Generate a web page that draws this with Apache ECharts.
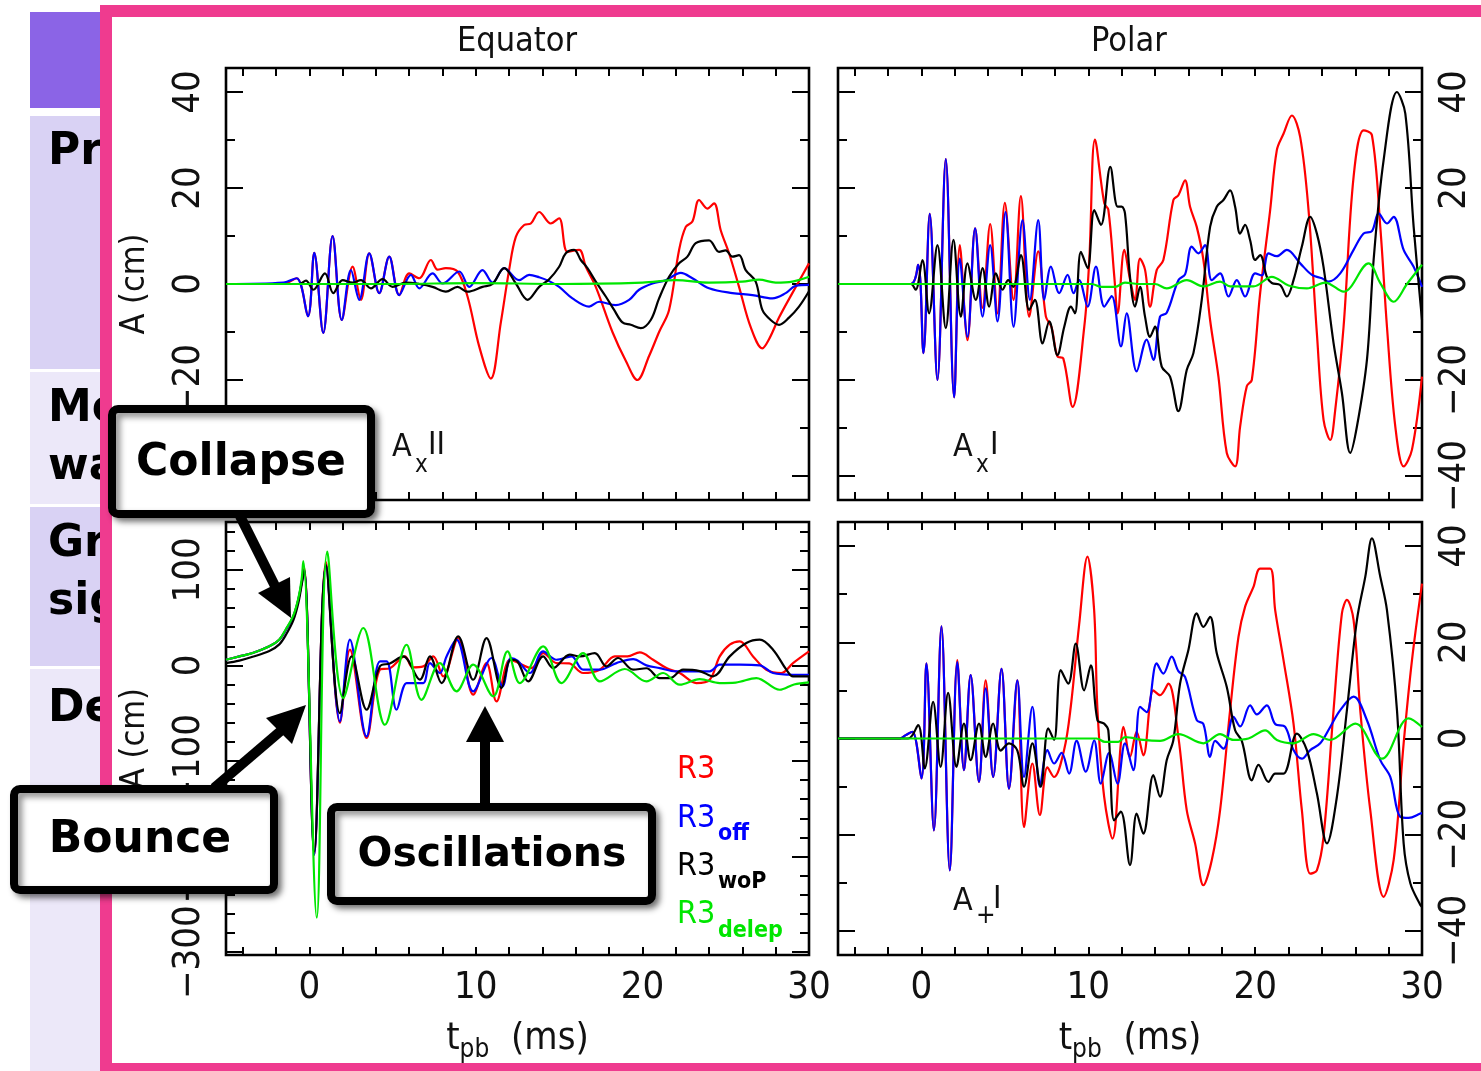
<!DOCTYPE html>
<html><head><meta charset="utf-8">
<script src="https://cdn.jsdelivr.net/npm/echarts@6/dist/echarts.min.js"></script>
<style>html,body{margin:0;padding:0;background:#fff;}#c{width:1481px;height:1071px;}</style>
</head><body><div id="c"></div>
<script>
// ---------- tick / label values ----------
const xTickVals = [-4,-2,0,2,4,6,8,10,12,14,16,18,20,22,24,26,28,30];
const xLabelVals = [0,10,20,30];
const ySmallTicks = [-40,-30,-20,-10,0,10,20,30,40];
const ySmallLabels = [-40,-20,0,20,40];
const yBigTicks = [-300,-280,-260,-240,-220,-200,-180,-160,-140,-120,-100,-80,-60,-40,-20,0,20,40,60,80,100,120,140];
const yBigLabels = [-300,-200,-100,0,100];

// ---------- Equator, A_x II (top-left) ----------
const eqAx_R3 = [[-5,0],[-1.6,0],[-0.76,1.2],[-0.08,-6.7],[0.3,6.5],[0.84,-10.2],[1.4,10],[1.95,-7.5],[2.6,3.6],[3.1,-3.3],[3.6,6.4],[4.2,-1.9],[4.8,5.7],[5.4,-2.3],[6.0,2.2],[6.6,1.2],[7.3,5.0],[7.7,3.0],[8.2,3.3],[8.9,2.6],[9.5,-2.6],[10.2,-13],[10.9,-19.7],[11.5,-8],[12.0,3],[12.4,9.8],[12.9,12.3],[13.3,12.6],[13.8,15],[14.5,12.6],[15.0,13.7],[15.5,6.7],[16.2,7.1],[16.6,3.6],[17.2,-0.6],[18.2,-10],[19.0,-16],[19.7,-20],[20.4,-15],[21.0,-10],[21.6,-5.4],[22.2,7.1],[22.6,11.9],[23.0,13],[23.4,17.5],[23.9,15.7],[24.3,16.8],[24.7,11.2],[25.2,6.4],[25.8,-0.6],[26.5,-9],[27.2,-13.4],[27.6,-11.5],[28.2,-7],[29.0,-1.9],[30,4.3]];
const eqAx_R3off = [[-5,0],[-1.56,0.3],[-0.76,1.2],[-0.08,-6.7],[0.3,6.5],[0.84,-10.2],[1.4,10],[1.95,-7.5],[2.5,2.9],[3.0,-3.3],[3.6,6.4],[4.2,-1.9],[4.8,5.7],[5.4,-2.3],[6.1,1.9],[6.6,-0.9],[7.4,2.2],[8.0,0.1],[9.0,2.6],[9.6,-0.6],[10.4,2.9],[11.0,0.3],[11.7,3.3],[12.6,0.8],[13.2,1.9],[13.8,1.4],[14.4,0.6],[15.0,-0.6],[15.8,-3.0],[16.8,-4.7],[17.4,-3.7],[18.4,-4.4],[19.2,-3.3],[19.8,-1.2],[20.6,0.1],[21.4,0.8],[22.3,2.3],[23.0,1.2],[24.0,-0.9],[25.4,-1.9],[26.6,-2.3],[27.8,-3.0],[28.6,-1.9],[29.2,-0.4],[30,-0.2]];
const eqAx_R3woP = [[-5,0],[-0.6,0],[-0.2,0.7],[0.24,-1.2],[0.94,2.2],[1.44,-1.9],[2.0,0.8],[2.6,0.3],[3.1,0.8],[3.7,-0.9],[4.4,1.0],[5.0,-0.6],[5.8,0.3],[6.6,0],[7.4,-0.6],[8.2,-1.6],[8.9,-0.6],[9.5,-1.6],[10.4,-0.6],[11.0,0],[11.7,3.3],[12.4,0.1],[13.1,-3.3],[13.8,-0.6],[14.4,1.0],[15.0,3.6],[15.4,6.4],[15.9,7.1],[16.3,5.0],[16.7,3.3],[17.2,0.5],[17.8,-2.6],[18.3,-5.4],[18.8,-8.0],[19.3,-8.5],[19.9,-9.2],[20.5,-7.5],[21.0,-3],[21.6,1.5],[22.2,4.3],[22.7,5.7],[23.2,8.5],[24.0,9.1],[24.6,6.7],[25.0,7.0],[25.4,5.7],[25.8,6.0],[26.2,2.9],[26.8,0.5],[27.2,-5.4],[27.7,-7.5],[28.2,-8.5],[28.8,-7.0],[29.4,-4.7],[30,-1.5]];
const eqAx_R3delep = [[-5,0],[5,0],[10,0.2],[15,0],[20,0.3],[22,0.8],[24,0.3],[26,0.5],[27,0.9],[28,0.3],[29,0.5],[30,1.5]];

// ---------- Polar, A_x I (top-right) ----------
const poAx_R3 = [[-5,0],[-0.64,0],[-0.2,4.0],[0.12,-14.4],[0.5,14.6],[0.96,-20],[1.46,26],[1.96,-23.6],[2.3,8.1],[2.76,-11.7],[3.22,11.6],[3.66,-5],[4.12,12.5],[4.56,-6.1],[5.0,16.9],[5.52,-3.3],[5.96,18.3],[6.46,-6.8],[7.0,6.8],[7.46,-6.8],[7.8,-9],[8.15,-15.1],[8.5,-15.5],[9.06,-25.6],[9.76,-8.9],[10.06,5.0],[10.4,30.1],[10.96,16.8],[11.2,15.5],[11.56,1.5],[11.76,-6.1],[12.16,7.1],[12.5,1],[12.8,-3.3],[13.1,5.3],[13.4,3],[13.7,-4.7],[14.1,2.9],[14.5,5.0],[15.1,17.5],[15.4,18.5],[15.8,21.6],[16.1,16.1],[16.5,11.9],[16.9,5.0],[17.3,-7.5],[17.8,-19.3],[18.3,-35.2],[18.8,-38.0],[19.1,-29.7],[19.5,-21.3],[19.8,-20],[20.3,-1.9],[20.9,15.4],[21.3,27.9],[21.7,31.3],[22.2,35.1],[22.7,30.6],[23.2,15.4],[23.7,-10.3],[24.1,-28.3],[24.5,-32.5],[24.8,-26.2],[25.3,-8.9],[25.9,22.3],[26.5,32.0],[27.0,31.0],[27.5,11.9],[27.9,-8.9],[28.4,-29.7],[28.9,-38.0],[29.4,-34.5],[30,-19.3]];
const poAx_R3off = [[-5,0],[-0.64,0],[-0.2,4.0],[0.12,-14.4],[0.5,14.6],[0.96,-20],[1.46,26],[1.96,-23.6],[2.3,5.3],[2.76,-11],[3.22,11.6],[3.66,-6.8],[4.12,8.1],[4.56,-7.8],[5.04,15],[5.52,-8.9],[6.06,13.3],[6.5,-3.3],[7.0,13.3],[7.36,-3.3],[7.76,3.6],[8.26,-1.9],[8.76,1.9],[9.12,-1.9],[9.45,0.8],[9.96,-4.7],[10.46,3.6],[10.96,-4.7],[11.4,-2.5],[11.96,-13],[12.3,-6.1],[12.9,-18.2],[13.5,-11.6],[13.9,-15.8],[14.3,-6.8],[14.7,-6.0],[15.4,0.8],[15.8,2.0],[16.2,7.8],[16.6,6.4],[17.0,8.1],[17.4,0.8],[17.9,2.2],[18.4,-2.6],[18.9,0.8],[19.4,-2.6],[20.0,2.2],[20.4,1.8],[20.8,6.4],[21.3,5.8],[21.9,7.1],[22.7,4.3],[23.4,1.9],[24.0,1.2],[24.4,0.5],[25.1,2.2],[25.9,7.1],[26.5,10.5],[27.0,11.0],[27.4,14.7],[27.9,12.6],[28.3,14.0],[28.9,7.1],[29.5,3.6],[30,-0.6]];
const poAx_R3woP = [[-5,0],[-0.64,0],[-0.35,-1.2],[0.06,5.0],[0.46,-6.1],[0.96,8.1],[1.46,-9.2],[1.92,9.2],[2.36,-6.8],[2.76,4.3],[3.26,-3.3],[3.66,3.3],[4.06,-4.7],[4.46,2.2],[4.86,-1.2],[5.2,0.8],[5.5,-0.6],[5.96,6.0],[6.46,-5.4],[6.8,-3.3],[7.26,-12.4],[7.66,-7.8],[8.15,-14.8],[8.56,-8.9],[8.96,-4.7],[9.2,-6.1],[9.56,6.7],[9.96,3.3],[10.36,15.4],[10.76,12.3],[11.32,24.4],[11.76,16.1],[12.0,16.1],[12.2,14.7],[12.5,1.5],[12.8,-4.7],[13.1,-0.6],[13.4,-6.8],[13.7,-11],[14.0,-8.9],[14.4,-17.2],[14.9,-19.3],[15.4,-26.5],[15.9,-17.9],[16.3,-14.4],[16.8,-3.3],[17.3,11.9],[17.7,16.1],[18.1,17.5],[18.5,19.5],[18.8,16.1],[19.1,10.5],[19.4,12.3],[19.7,9.1],[20.0,5.0],[20.3,6.0],[20.7,1.5],[21.0,0.2],[21.5,-0.2],[21.9,-2.6],[22.3,0.8],[22.8,7.8],[23.3,14.0],[23.7,10.5],[24.1,3.5],[24.7,-12.3],[25.2,-22.7],[25.7,-35.2],[26.1,-29.7],[26.7,-15.8],[27.1,5.0],[27.7,25.8],[28.5,40.0],[29.0,35.5],[29.5,11.9],[30,-7.5]];
const poAx_R3delep = [[-5,0],[10.2,0],[10.8,-0.6],[11.6,-0.6],[12.2,0.3],[13,0],[14,0],[14.7,-0.9],[15.9,0.8],[16.9,-0.5],[17.9,0.5],[18.5,-0.5],[19.9,-0.5],[21.0,1.5],[22.0,-0.3],[23.1,-0.9],[24.2,0.3],[25.3,-1.6],[26.8,4.3],[27.5,0.2],[28.3,-3.7],[29.1,0],[30,4.0]];

// ---------- Equator, A_+ (bottom-left) ----------
const eqAp_R3 = [[-5,5.9],[-4.2,9.4],[-3.4,12.9],[-2.4,19.9],[-1.8,26.9],[-1.4,37.3],[-0.96,51.3],[-0.66,68.8],[-0.46,86.2],[-0.3,102],[0.3,-198],[1.0,108],[1.84,-60],[2.44,16.4],[3.44,-76],[4.24,-4.5],[4.84,-3],[5.74,9.4],[6.2,-2],[6.84,-1],[7.44,9.4],[8.04,-11.5],[8.94,28.6],[9.84,-30.7],[10.64,2.4],[11.24,-37.7],[12.04,5.9],[12.5,3],[13.34,-2.8],[14.04,12.9],[14.84,2.4],[15.6,2],[16.44,-8],[17.44,-4.5],[18.34,9.4],[19.1,9.4],[19.84,13.6],[20.64,5.9],[21.44,-2.8],[22.24,-8],[23.24,-18.5],[24.04,-15],[24.64,9.4],[25.24,21.6],[25.84,25.1],[26.64,9.4],[27.44,-4.5],[28.34,-8],[29.04,2.4],[30,14.7]];
const eqAp_R3off = [[-5,5.9],[-4.2,9.4],[-3.4,12.9],[-2.4,19.9],[-1.8,26.9],[-1.4,37.3],[-0.96,51.3],[-0.66,68.8],[-0.46,86.2],[-0.3,100],[0.3,-198],[1.0,105],[1.84,-58.6],[2.44,26.9],[3.44,-74.3],[4.24,4.2],[4.64,4.2],[5.24,-46.4],[5.84,-18.5],[6.24,-18.5],[6.84,-18.5],[7.24,2.4],[7.84,-8],[8.24,9.4],[8.84,26.9],[9.84,-27.2],[10.94,7.7],[11.6,-22],[12.1,7.7],[12.5,5],[13.24,-8],[14.04,14.7],[14.84,5.9],[15.74,9.4],[16.44,-4.5],[17.44,-4.5],[18.44,2.4],[19.44,6.6],[20.24,0],[21.04,-2.8],[22.0,-6.3],[23.0,-6.3],[24.04,-6.3],[24.64,0.7],[25.84,0.7],[27.04,0],[27.84,-8],[29.04,-9.8],[30,-9.8]];
const eqAp_R3woP = [[-5,2.4],[-4.2,5],[-3.4,9],[-2.4,15],[-1.8,22],[-1.4,32],[-0.96,47],[-0.66,65],[-0.46,84],[-0.3,100],[0.3,-195],[1.0,105],[1.84,-50],[2.54,9.4],[3.44,-46.4],[4.24,-1],[4.84,2],[5.64,9.4],[6.64,-15],[7.24,9.4],[7.94,-18.5],[8.94,30.4],[9.84,-15],[10.64,28.6],[11.54,-23.7],[12.1,5.9],[12.5,4],[13.14,-16.8],[14.04,9.4],[14.64,-2.8],[15.64,11.2],[16.24,9.4],[17.14,12.9],[17.84,-1],[18.54,7.7],[19.44,-4.5],[20.24,-3],[21.04,-13.3],[21.64,-13.3],[22.44,-4.5],[23.44,-6],[24.24,-11.5],[25.24,9.4],[26.24,23.4],[27.04,26.9],[27.84,16.4],[28.64,-4.5],[29.04,-11.5],[30,-11.5]];
const eqAp_R3delep = [[-5,5.9],[-4.2,9.4],[-3.4,13],[-2.4,20],[-1.8,27],[-1.4,38],[-0.96,52],[-0.66,70],[-0.46,90],[-0.36,109],[0.45,-264],[1.08,119],[2.04,-34.2],[3.24,39.1],[4.54,-62.1],[5.84,21.6],[6.74,-36],[7.84,2.4],[8.84,-27.2],[9.84,0.7],[11.04,-32.5],[11.9,14.7],[12.64,-18.5],[14.04,19.9],[15.14,-18.5],[16.44,12.9],[17.44,-16.8],[18.94,-3.8],[20.24,-16.8],[21.24,-8],[22.24,-20.2],[23.44,-14.3],[24.64,-18.5],[25.6,-18],[26.84,-13.3],[28.24,-25.5],[29.1,-20],[30,-17.8]];

// ---------- Polar, A_+ I (bottom-right) ----------
const poAp_R3 = [[-5,0],[-1.3,0],[-0.94,0.7],[-0.54,1.4],[0,-8.3],[0.3,15.6],[0.75,-19.1],[1.2,23.3],[1.7,-27.4],[2.15,16.3],[2.55,-6.6],[2.95,13.2],[3.45,-9.0],[3.85,12.1],[4.3,-8.0],[4.8,14.5],[5.25,-10.4],[5.75,12.1],[6.15,-18.4],[6.65,-5.2],[7.1,-15.9],[7.55,-6],[7.95,-8],[8.55,-2.4],[8.95,6.6],[9.45,23.6],[9.95,37.8],[10.35,26.7],[10.55,5.9],[10.95,-12.1],[11.45,-20.8],[11.95,-1.0],[12.1,2.4],[12.5,-3.8],[12.9,1.4],[13.3,-3.5],[13.9,10],[14.3,9],[14.8,11.4],[15.4,0.3],[15.9,-14.9],[16.4,-21.8],[16.9,-30.5],[17.4,-25.3],[17.9,-14.9],[18.5,5.9],[19.0,21.1],[19.4,27.4],[19.9,31.5],[20.3,35.3],[20.9,35.3],[21.2,26.7],[21.7,16.3],[22.3,3.1],[22.8,-14.9],[23.3,-28.1],[23.7,-27.4],[24.1,-20.4],[24.7,5.9],[25.2,26.0],[25.5,28.8],[25.9,24.6],[26.3,5.9],[26.9,-14.9],[27.7,-32.9],[28.3,-25.3],[28.9,-1.0],[29.4,16.3],[30,32.2]];
const poAp_R3off = [[-5,0],[-1.3,0],[-0.94,0.7],[-0.54,1.4],[0,-8.3],[0.3,15.6],[0.75,-19.1],[1.2,23.3],[1.7,-27.4],[2.15,15.9],[2.55,-6.6],[2.95,13.2],[3.45,-9.0],[3.85,10.4],[4.3,-8.0],[4.8,14.5],[5.25,-10.4],[5.75,12.1],[6.15,-8],[6.65,6.6],[7.1,-10],[7.55,-2.4],[7.95,-5.2],[8.4,-3],[8.85,-7.3],[9.3,-0.5],[9.85,-6.9],[10.35,-0.4],[10.75,-9.4],[11.25,-3],[11.75,-9.4],[12.2,-1],[12.7,-6.6],[13.1,6.6],[13.5,5.5],[14.1,15.6],[14.5,13.5],[15.0,17.0],[15.4,14],[15.8,12.8],[16.5,3.8],[16.9,3],[17.3,-3.8],[17.6,-0.5],[18.1,-2.1],[18.7,4.5],[19.1,2.5],[19.7,6.9],[20.1,5],[20.7,6.9],[21.2,3],[21.8,2.4],[22.3,-2.4],[22.8,-4.2],[23.3,-2.4],[23.9,-1.0],[24.5,2.4],[25.1,5.9],[25.9,8.7],[26.7,3.8],[27.5,-4.5],[28.1,-8.0],[28.7,-16.3],[29.2,-16.5],[29.9,-15.6],[30,-15.5]];
const poAp_R3woP = [[-5,0],[-0.8,0],[-0.2,2.8],[0.2,-6.2],[0.7,7.6],[1.15,-5.9],[1.6,9.5],[2.1,-5.9],[2.55,3.1],[2.95,-4.5],[3.45,3.1],[3.85,-3.8],[4.3,3.1],[4.75,-2.5],[5.25,-1.0],[5.75,-2.5],[6.15,-10],[6.65,-1],[7.15,-10],[7.6,2.1],[7.95,-0.3],[8.35,14.2],[8.8,11.4],[9.25,19.7],[9.75,10],[10.15,15.2],[10.55,3.8],[10.95,3.1],[11.2,1.7],[11.55,-17],[11.95,-15.2],[12.5,-26.3],[12.9,-15.6],[13.3,-19.8],[13.9,-7.6],[14.3,-12.1],[14.7,-4.5],[15.1,-0.3],[15.5,11.4],[16.0,18.4],[16.5,26.0],[16.9,23.2],[17.3,25.3],[17.7,17.7],[18.3,10.7],[18.8,1.7],[19.2,-0.5],[19.8,-8.7],[20.2,-5.5],[20.8,-9.0],[21.2,-7.3],[21.7,-7.3],[22.5,1.0],[23.1,-2.4],[23.7,-11.4],[24.3,-21.8],[24.9,-12.1],[25.5,5.9],[26.1,24.6],[26.6,33.6],[27.0,41.6],[27.5,33.6],[27.9,26.7],[28.5,5.9],[28.9,-21.8],[29.3,-30.1],[29.9,-34.6],[30,-35]];
const poAp_R3delep = [[-5,0],[10.5,0],[11.0,-0.7],[11.8,-0.7],[12.2,0.3],[13.3,-0.3],[14.3,-0.5],[15.4,0.9],[16.9,-1],[17.9,0.9],[18.7,-0.3],[19.6,0],[20.6,1.7],[21.3,-0.3],[22.3,-1],[23.5,0.9],[24.5,-0.3],[26.0,3.1],[27.6,-4.2],[29.2,4.2],[30,2.4]];

// ---------- build ----------
const FONT = "'Liberation Sans Narrow','DejaVu Sans Condensed','Liberation Sans',sans-serif";
const BOLD = "'DejaVu Sans','Noto Sans',sans-serif";
const COL = {R3:'#ff0000', R3off:'#0000ff', R3woP:'#000000', R3delep:'#00e600'};
const fmt = v => v < 0 ? '\u2212' + Math.abs(v) : String(v);

const gridBoxes = [
  {left:226, top:68, width:583, height:432},
  {left:838, top:68, width:584, height:432},
  {left:226, top:522, width:583, height:433},
  {left:838, top:522, width:584, height:433}
];
const grid = gridBoxes.map(b => Object.assign({show:true, borderColor:'#000', borderWidth:2.6, backgroundColor:'transparent'}, b));

const xAxis = [], yAxis = [];
const tickStyle = {color:'#000', width:2};
const noLine = {show:false, onZero:false};
gridBoxes.forEach((b, g) => {
  const bottomRow = g >= 2;
  xAxis.push({gridIndex:g, type:'value', min:-5, max:30, position:'bottom',
    axisLine:noLine, splitLine:{show:false},
    axisTick:{inside:true, length:8, customValues:xTickVals, lineStyle:tickStyle},
    axisLabel:{show:bottomRow, customValues:xLabelVals, margin:14, fontSize:38, fontFamily:FONT, color:'#111'},
    name: bottomRow ? '{t|t}{s|pb}{n|  (ms)}' : '', nameLocation:'middle', nameGap:60,
    nameTextStyle:{rich:{t:{fontSize:38, fontFamily:FONT, color:'#111'}, s:{fontSize:26, fontFamily:FONT, color:'#111', padding:[22,0,0,0]}, n:{fontSize:38, fontFamily:FONT, color:'#111'}}}
  });
  xAxis.push({gridIndex:g, type:'value', min:-5, max:30, position:'top',
    axisLine:noLine, splitLine:{show:false},
    axisTick:{inside:true, length:8, customValues:xTickVals, lineStyle:tickStyle},
    axisLabel:{show:false}
  });
  const big = g === 2;
  const ymin = big ? -303 : -45, ymax = big ? 150 : 45;
  const ticks = big ? yBigTicks : ySmallTicks, labels = big ? yBigLabels : ySmallLabels;
  const leftPanel = (g % 2) === 0;
  [['left', leftPanel], ['right', !leftPanel]].forEach(([pos, showLab]) => {
    yAxis.push({gridIndex:g, type:'value', min:ymin, max:ymax, position:pos,
      axisLine:noLine, splitLine:{show:false},
      axisTick:{inside:true, length:17, customValues:labels, lineStyle:tickStyle},
      axisLabel:{show:showLab, customValues:labels, rotate:90, margin:pos==='left'?18:14, fontSize:38, fontFamily:FONT, color:'#111', formatter:fmt},
      name: (pos==='left' && leftPanel) ? 'A (cm)' : '', nameLocation:'middle', nameRotate:90, nameGap:74,
      nameTextStyle:{fontSize:34, fontFamily:FONT, color:'#111'}
    });
    yAxis.push({gridIndex:g, type:'value', min:ymin, max:ymax, position:pos,
      axisLine:noLine, splitLine:{show:false},
      axisTick:{inside:true, length:9, customValues:ticks, lineStyle:tickStyle},
      axisLabel:{show:false}
    });
  });
});

const panels = [
  [eqAx_R3, eqAx_R3off, eqAx_R3woP, eqAx_R3delep],
  [poAx_R3, poAx_R3off, poAx_R3woP, poAx_R3delep],
  [eqAp_R3, eqAp_R3off, eqAp_R3woP, eqAp_R3delep],
  [poAp_R3, poAp_R3off, poAp_R3woP, poAp_R3delep]
];
const names = ['R3','R3off','R3woP','R3delep'];
const series = [];
panels.forEach((set, g) => {
  set.forEach((data, k) => {
    const c = COL[names[k]];
    series.push({type:'line', name:names[k], data, xAxisIndex:g*2, yAxisIndex:g*4,
      showSymbol:false, smooth:0.35, clip:true, z:2+k,
      lineStyle:{width:2.2, color:c}, itemStyle:{color:c}, emphasis:{disabled:true}});
  });
});

// ---------- decorations ----------
const BG = -10, TOP = 50;
const txt = (x, y, text, o) => Object.assign({type:'text', z:TOP, style:Object.assign({x, y, text, fill:'#111', font:'34px ' + FONT, textVerticalAlign:'middle'}, o || {})});
const box = (x, y, w, h) => ({type:'rect', z:TOP, shape:{x, y, width:w, height:h, r:6},
  style:{fill:'#fff', stroke:'#000', lineWidth:8, shadowColor:'rgba(0,0,0,0.45)', shadowBlur:6, shadowOffsetX:4, shadowOffsetY:4}});
const poly = pts => ({type:'polygon', z:TOP, shape:{points:pts}, style:{fill:'#000'}});
const seg = (x1,y1,x2,y2) => ({type:'line', z:TOP, shape:{x1,y1,x2,y2}, style:{stroke:'#000', lineWidth:10}});

const elements = [
  {type:'rect', z:BG, shape:{x:30,y:12,width:120,height:96}, style:{fill:'#8b64e6'}},
  {type:'rect', z:BG, shape:{x:30,y:116,width:120,height:253}, style:{fill:'#d9d2f4'}},
  {type:'rect', z:BG, shape:{x:30,y:372,width:120,height:132}, style:{fill:'#ece8f9'}},
  {type:'rect', z:BG, shape:{x:30,y:507,width:120,height:159}, style:{fill:'#d9d2f4'}},
  {type:'rect', z:BG, shape:{x:30,y:669,width:120,height:402}, style:{fill:'#ece8f9'}},
  {type:'text', z:BG, style:{x:48, y:153, text:'Pro', font:'bold 44px ' + BOLD, fill:'#000', textVerticalAlign:'middle'}},
  {type:'text', z:BG, style:{x:48, y:410, text:'Mo', font:'bold 44px ' + BOLD, fill:'#000', textVerticalAlign:'middle'}},
  {type:'text', z:BG, style:{x:48, y:468, text:'wa', font:'bold 44px ' + BOLD, fill:'#000', textVerticalAlign:'middle'}},
  {type:'text', z:BG, style:{x:48, y:545, text:'Gr', font:'bold 44px ' + BOLD, fill:'#000', textVerticalAlign:'middle'}},
  {type:'text', z:BG, style:{x:48, y:603, text:'sig', font:'bold 44px ' + BOLD, fill:'#000', textVerticalAlign:'middle'}},
  {type:'text', z:BG, style:{x:48, y:710, text:'De', font:'bold 44px ' + BOLD, fill:'#000', textVerticalAlign:'middle'}},
  {type:'rect', z:BG+1, shape:{x:106,y:11,width:1420,height:1058}, style:{fill:'#fff', stroke:'#ef3b8f', lineWidth:12}},

  // titles
  txt(517, 42, 'Equator', {textAlign:'center', font:'34px ' + FONT}),
  txt(1129, 42, 'Polar', {textAlign:'center', font:'34px ' + FONT}),

  // panel labels
  txt(392, 448, 'A', {font:'32px ' + FONT}), txt(415, 466, 'x', {font:'24px ' + FONT}), txt(428, 446, 'II', {font:'32px ' + FONT}),
  txt(953, 448, 'A', {font:'32px ' + FONT}), txt(976, 466, 'x', {font:'24px ' + FONT}), txt(990, 446, 'I', {font:'32px ' + FONT}),
  txt(953, 902, 'A', {font:'32px ' + FONT}), txt(976, 916, '+', {font:'26px ' + FONT}), txt(993, 900, 'I', {font:'32px ' + FONT}),

  // legend
  txt(677, 770, 'R3', {fill:COL.R3, font:'32px ' + FONT}),
  txt(677, 819, 'R3', {fill:COL.R3off, font:'32px ' + FONT}), txt(718, 834, 'off', {fill:COL.R3off, font:'bold 23px ' + FONT}),
  txt(677, 867, 'R3', {fill:COL.R3woP, font:'32px ' + FONT}), txt(718, 882, 'woP', {fill:COL.R3woP, font:'bold 23px ' + FONT}),
  txt(677, 915, 'R3', {fill:COL.R3delep, font:'32px ' + FONT}), txt(718, 931, 'delep', {fill:COL.R3delep, font:'bold 23px ' + FONT}),

  // Collapse
  seg(240, 516, 276, 588),
  poly([[258,593],[290,577],[291,618]]),
  box(112, 409, 259, 105),
  txt(241, 464, 'Collapse', {textAlign:'center', font:'bold 44px ' + BOLD, fill:'#000'}),
  // Bounce
  seg(214, 788, 283, 729),
  poly([[266,718],[292,744],[306,705]]),
  box(14, 789, 260, 101),
  txt(140, 841, 'Bounce', {textAlign:'center', font:'bold 44px ' + BOLD, fill:'#000'}),
  // Oscillations
  seg(485, 740, 485, 808),
  poly([[466,742],[504,742],[485,706]]),
  box(331, 807, 321, 94),
  txt(492, 855, 'Oscillations', {textAlign:'center', font:'bold 41px ' + BOLD, fill:'#000'})
];

const chart = echarts.init(document.getElementById('c'), null, {renderer:'canvas'});
chart.setOption({
  animation:false,
  backgroundColor:'#fff',
  grid, xAxis, yAxis, series,
  graphic:{elements}
});
</script></body></html>
